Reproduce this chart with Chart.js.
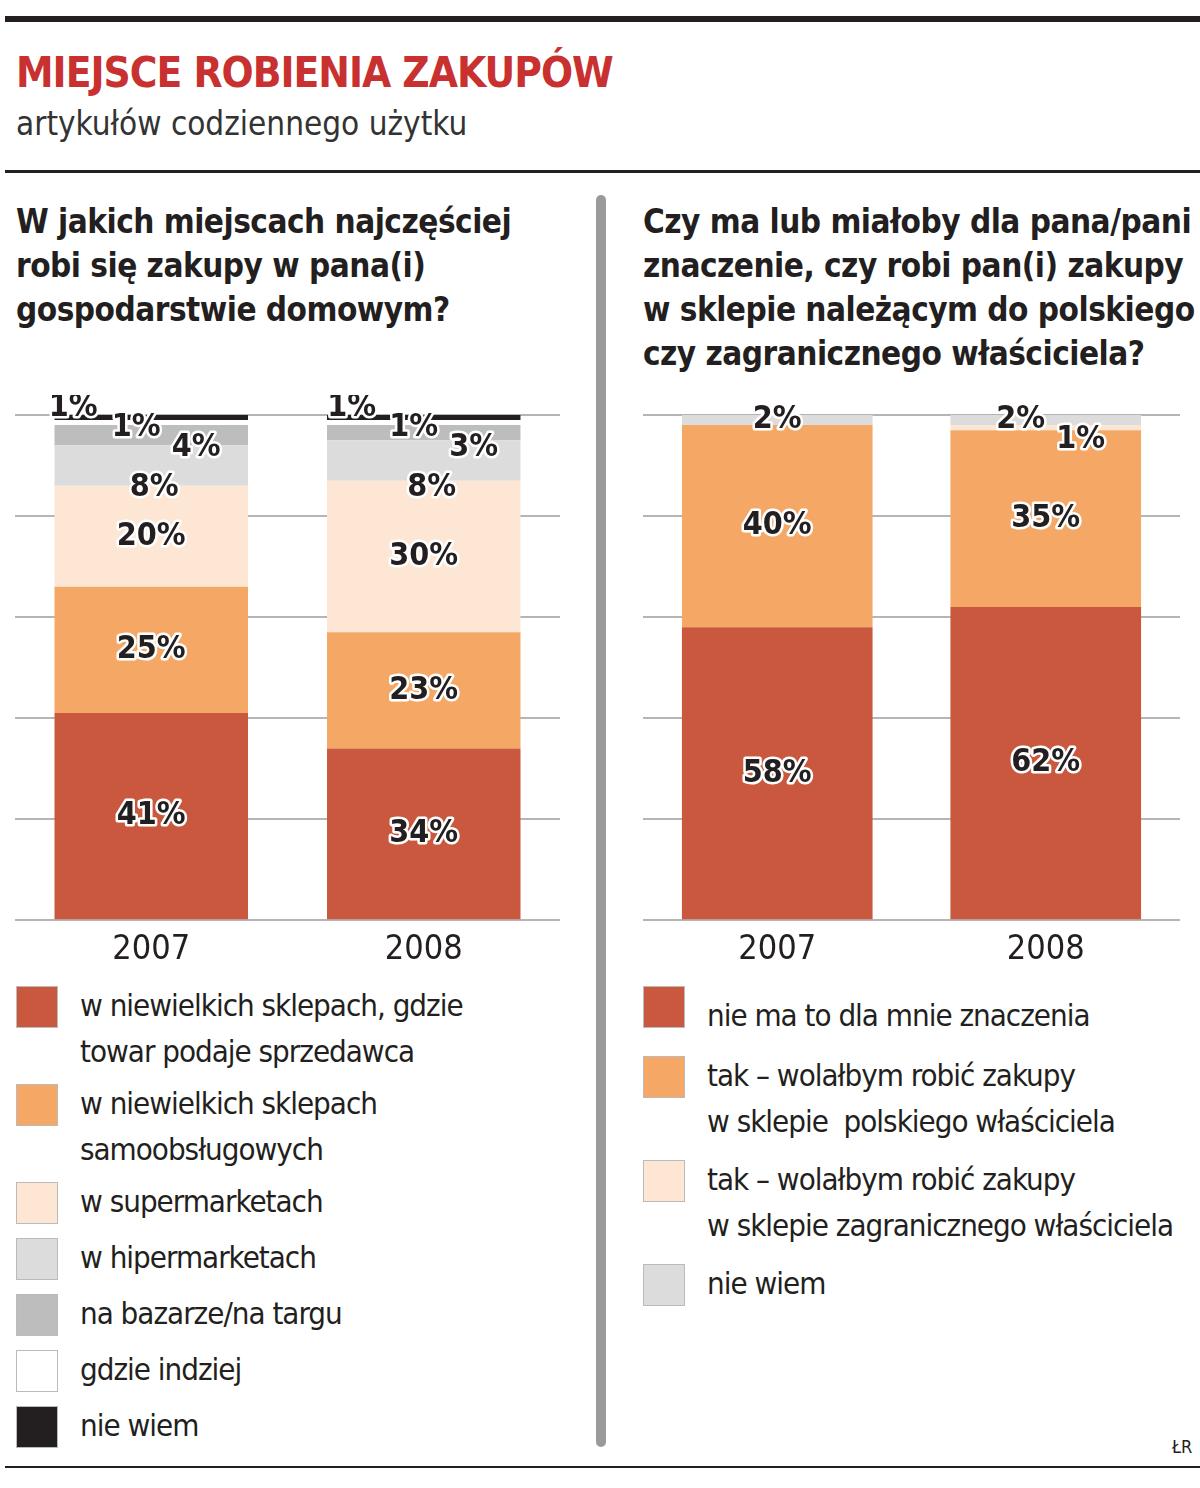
<!DOCTYPE html>
<html><head><meta charset="utf-8">
<script src="https://cdn.jsdelivr.net/npm/chart.js@4"></script>
<style>
body{margin:0;width:1200px;height:1488px;background:#fff;position:relative;font-family:"DejaVu Sans Condensed","DejaVu Sans",sans-serif;color:#231f20;overflow:hidden}
.abs{position:absolute}
.rule{position:absolute;left:5px;right:0;background:#231f20}
h1{position:absolute;left:16px;top:48px;margin:0;font-size:42px;color:#c8312f;font-weight:bold;letter-spacing:-1px}
.sub{left:16px;top:104px;font-size:33px;color:#333}
.q{font-size:33px;font-weight:bold;line-height:44px;white-space:nowrap;letter-spacing:-0.5px}
.leg{position:absolute;font-size:31px;line-height:46px;letter-spacing:-1px}
.leg .it{position:relative;padding-left:64px}
.leg .sw{position:absolute;left:0;top:4px;width:42px;height:42px;border:1px solid #bbb;box-sizing:border-box}
</style></head><body>
<div class="rule" style="top:16px;height:6px"></div>
<h1>MIEJSCE ROBIENIA ZAKUPÓW</h1>
<div class="abs sub">artykułów codziennego użytku</div>
<div class="rule" style="top:170px;height:3px"></div>
<div class="abs" style="left:596px;top:195px;width:10px;height:1252px;background:#9a9a9a;border-radius:5px"></div>
<div class="abs q" style="left:16px;top:200px">W jakich miejscach najczęściej<br>robi się zakupy w pana(i)<br>gospodarstwie domowym?</div>
<div class="abs q" style="left:643px;top:200px">Czy ma lub miałoby dla pana/pani<br>znaczenie, czy robi pan(i) zakupy<br>w sklepie należącym do polskiego<br>czy zagranicznego właściciela?</div>
<div class="abs" style="left:15px;top:395px;width:545px;height:578px"><canvas id="c1"></canvas></div>
<div class="abs" style="left:643px;top:395px;width:557px;height:578px"><canvas id="c2"></canvas></div>
<div class="leg" id="leg1" style="left:16px;top:982px;width:570px"></div>
<div class="leg" id="leg2" style="left:643px;top:982px;width:557px"></div>
<div class="rule" style="top:1466px;height:2px"></div>
<div class="abs" style="left:1172px;top:1436px;font-size:18px">ŁR</div>
<script>
const years = ['2007', '2008'];
// left chart, bottom to top
const placeLabels = ['w niewielkich sklepach, gdzie<br>towar podaje sprzedawca', 'w niewielkich sklepach<br>samoobsługowych', 'w supermarketach', 'w hipermarketach', 'na bazarze/na targu', 'gdzie indziej', 'nie wiem'];
const placeSmallShop = [41, 34];
const placeSelfService = [25, 23];
const placeSupermarket = [20, 30];
const placeHypermarket = [8, 8];
const placeBazaar = [4, 3];
const placeElsewhere = [1, 1];
const placeDontKnow = [1, 1];
const placeColors = ['#c9583f', '#f5a865', '#fde7d4', '#dcdcdc', '#bdbdbd', '#ffffff', '#231f20'];
// right chart
const ownerLabels = ['nie ma to dla mnie znaczenia', 'tak – wolałbym robić zakupy<br>w sklepie&nbsp; polskiego właściciela', 'tak – wolałbym robić zakupy<br>w sklepie zagranicznego właściciela', 'nie wiem'];
const ownerNoMatter = [58, 62];
const ownerPolish = [40, 35];
const ownerForeign = [0, 1];
const ownerDontKnow = [2, 2];
const ownerColors = ['#c9583f', '#f5a865', '#fde7d4', '#dcdcdc'];

// label offsets for thin segments [dx, dy] from top of the axis
const offs1 = {3: [[3, 68], [8, 68]], 4: [[45, 28], [50, 28]], 5: [[-15, 8], [-10, 8]], 6: [[-78, -12], [-72, -12]]};
const offs2 = {2: [null, [35, 20]], 3: [[0, 0], [-25, 0]]};

const labelPlugin = {
  id: 'segLabels',
  afterDatasetsDraw(chart, args, opts) {
    const ctx = chart.ctx;
    ctx.save();
    ctx.font = 'bold 32px "DejaVu Sans Condensed", sans-serif';
    ctx.textAlign = 'center'; ctx.textBaseline = 'middle';
    ctx.lineJoin = 'round';
    chart.data.datasets.forEach((ds, di) => {
      chart.getDatasetMeta(di).data.forEach((bar, i) => {
        const v = ds.data[i];
        if (!v) return;
        let x = bar.x, y = (bar.y + bar.base) / 2;
        const o = opts.offs[di];
        if (o) {
          if (!o[i]) return;
          y = chart.scales.y.getPixelForValue(100) + 5 + o[i][1];
          x = bar.x + o[i][0];
        }
        ctx.lineWidth = 5; ctx.strokeStyle = '#fff';
        ctx.strokeText(v + '%', x, y);
        ctx.fillStyle = '#231f20';
        ctx.fillText(v + '%', x, y);
      });
    });
    ctx.restore();
  }
};

function makeChart(id, sets, labels, colors, offs, padRight) {
  new Chart(document.getElementById(id), {
    type: 'bar',
    data: {labels: years, datasets: sets.map((d, i) => ({label: labels[i], data: d, backgroundColor: colors[i], borderWidth: 0}))},
    options: {
      responsive: true, maintainAspectRatio: false, animation: false,
      categoryPercentage: 1, barPercentage: 0.71,
      layout: {padding: {top: 20, left: 0, right: padRight}},
      plugins: {legend: {display: false}, tooltip: {enabled: false}, segLabels: {offs}},
      scales: {
        x: {stacked: true, grid: {display: false}, border: {display: false},
            ticks: {color: '#231f20', font: {size: 34, family: '"DejaVu Sans Condensed", sans-serif'}, padding: 2}},
        y: {stacked: true, min: 0, max: 100, ticks: {display: false, stepSize: 20},
            grid: {color: '#b5b5b5', lineWidth: 2, drawTicks: false}, border: {display: false}}
      }
    },
    plugins: [labelPlugin]
  });
}

makeChart('c1', [placeSmallShop, placeSelfService, placeSupermarket, placeHypermarket, placeBazaar, placeElsewhere, placeDontKnow], placeLabels, placeColors, offs1, 0);
makeChart('c2', [ownerNoMatter, ownerPolish, ownerForeign, ownerDontKnow], ownerLabels, ownerColors, offs2, 20);

function legend(id, labels, colors, gaps) {
  document.getElementById(id).innerHTML = labels.map((l, i) =>
    `<div class="it" style="margin-bottom:${gaps[i]}px"><span class="sw" style="background:${colors[i]}"></span>${l}</div>`).join('');
}
legend('leg1', placeLabels, placeColors, [6, 6, 10, 10, 10, 10, 0]);
legend('leg2', ownerLabels.map((l, i) => i === 0 ? '<span style="position:relative;top:10px">' + l + '</span>' : l), ownerColors, [24, 12, 12, 0]);
</script>
</body></html>
